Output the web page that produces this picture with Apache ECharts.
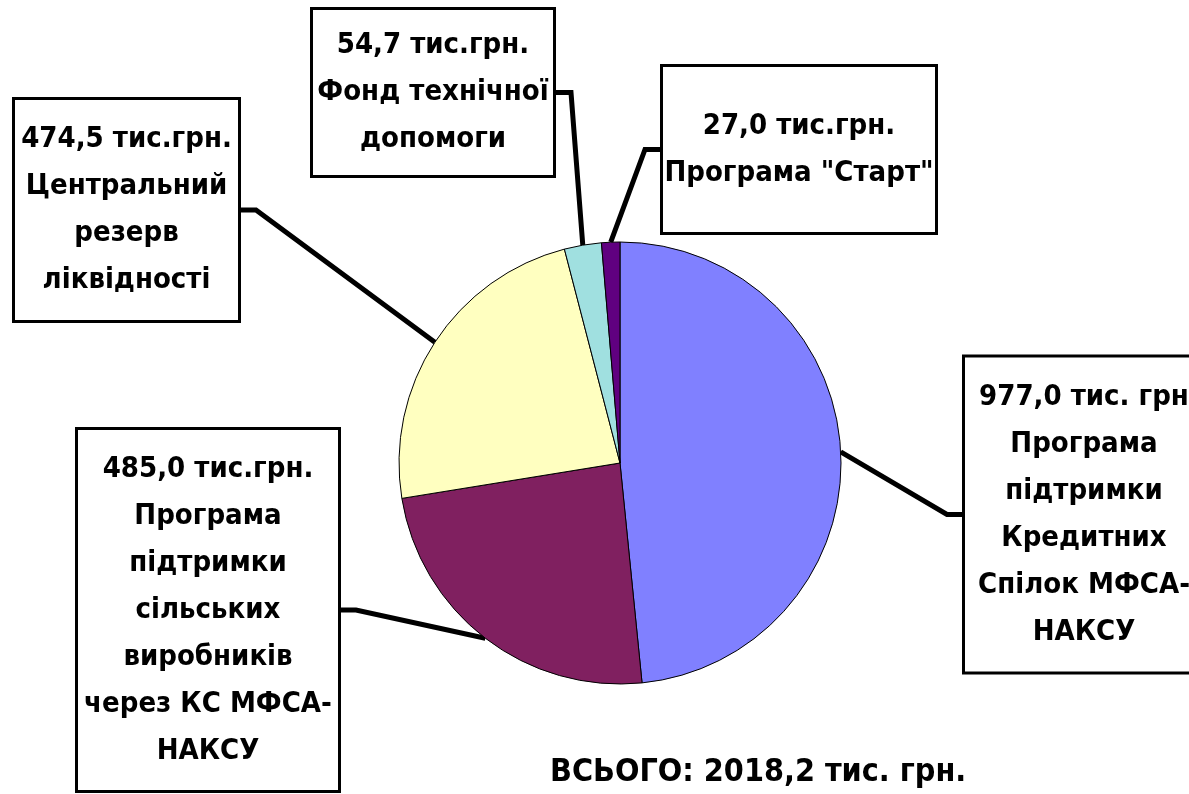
<!DOCTYPE html>
<html lang="uk">

<head>
  <meta charset="UTF-8">
  <title>Pie</title>
  <style>
    html, body { margin: 0; padding: 0; background: #fff; }
  </style>
</head>

<body>
  <div id="echarts" style="width: 1189px; height: 794px;"></div>
  <script src="https://cdn.jsdelivr.net/npm/echarts@6/dist/echarts.min.js"></script>
  <script>
    // дані
    const categories = [
      'Програма\nпідтримки\nКредитних\nСпілок МФСА-\nНАКСУ',
      'Програма\nпідтримки\nсільських\nвиробників\nчерез КС МФСА-\nНАКСУ',
      'Центральний\nрезерв\nліквідності',
      'Фонд технічної\nдопомоги',
      'Програма "Старт"'
    ];
    const values = [977.0, 485.0, 474.5, 54.7, 27.0];
    const units = ['тис. грн', 'тис.грн.', 'тис.грн.', 'тис.грн.', 'тис.грн.'];
    const colors = ['#8080ff', '#802060', '#ffffc0', '#a0e0e0', '#600080'];

    // рамки підписів: центр, ширина, відступи
    const boxes = [
      { cx: 1084, cy: 514.5, w: 238, pad: [16, 2, 16, 2] },
      { cx: 208, cy: 610, w: 260, pad: [15.5, 2, 15.5, 2] },
      { cx: 126.5, cy: 210, w: 223, pad: [16, 2, 16, 2] },
      { cx: 433, cy: 92.5, w: 240, pad: [12, 2, 12, 2] },
      { cx: 799, cy: 149.5, w: 272, pad: [14.5, 2, 56.5, 2] }
    ];

    const FONT = '"DejaVu Sans Condensed", "DejaVu Sans", sans-serif';

    function fmt(v) {
      return v.toFixed(1).replace('.', ',');
    }

    const total = values.reduce((a, b) => a + b, 0);

    window.onload = function () {
      let echart = echarts.init(document.getElementById('echarts'));
      let options = {
        animation: false,
        title: {
          text: 'ВСЬОГО: ' + fmt(total) + ' тис. грн.',
          left: 545,
          top: 752,
          textStyle: {
            fontFamily: FONT,
            fontWeight: 'bold',
            fontSize: 32,
            color: '#000'
          }
        },
        series: [
          {
            type: 'pie',
            center: [620, 463],
            radius: 221,
            startAngle: 90,
            clockwise: true,
            avoidLabelOverlap: false,
            itemStyle: {
              borderColor: '#000',
              borderWidth: 1
            },
            label: {
              show: true,
              position: 'outside',
              fontFamily: FONT,
              fontWeight: 'bold',
              fontSize: 29,
              lineHeight: 47,
              color: '#000',
              align: 'center',
              overflow: 'none',
              backgroundColor: '#fff',
              borderColor: '#000',
              borderWidth: 3,
              formatter: function (p) {
                return fmt(p.value) + ' ' + units[p.dataIndex] + '\n' + p.name;
              }
            },
            labelLine: {
              show: true,
              length: 20,
              length2: 15,
              minTurnAngle: 10,
              lineStyle: { color: '#000', width: 5 }
            },
            labelLayout: function (params) {
              const b = boxes[params.dataIndex];
              return {
                x: b.cx,
                y: b.cy,
                align: 'center',
                verticalAlign: 'middle'
              };
            },
            emphasis: { disabled: true },
            data: values.map((v, i) => ({
              name: categories[i],
              value: v,
              itemStyle: { color: colors[i] },
              label: {
                width: boxes[i].w - 4,
                padding: boxes[i].pad
              }
            }))
          }
        ]
      };
      echart.setOption(options);
    };
  </script>
</body>

</html>
